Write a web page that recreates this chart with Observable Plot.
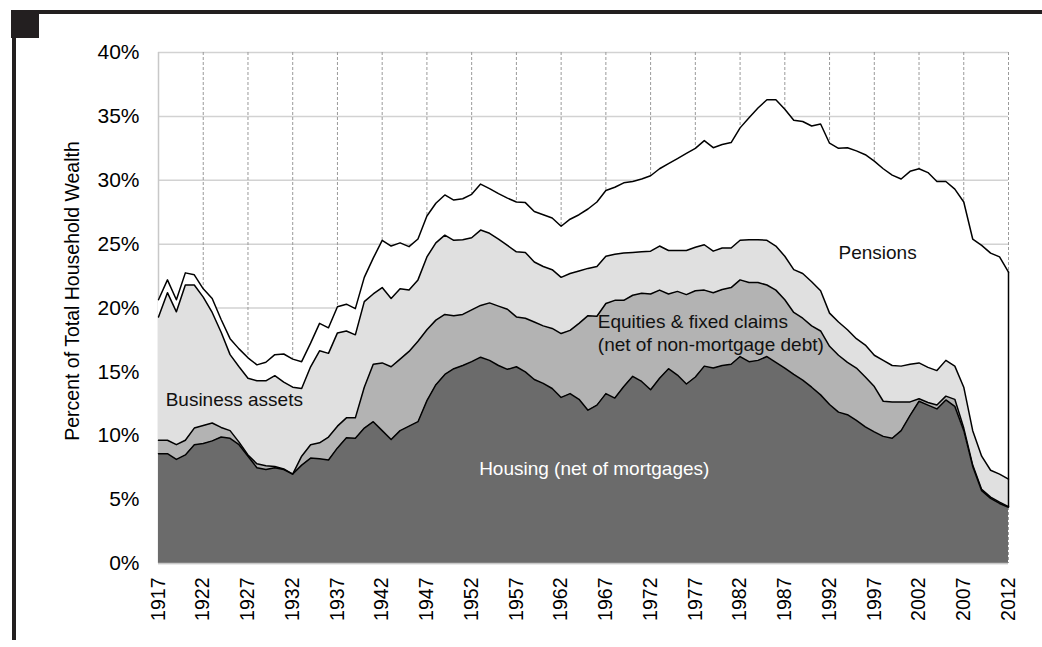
<!DOCTYPE html>
<html>
<head>
<meta charset="utf-8">
<script src="https://cdn.jsdelivr.net/npm/d3@7"></script>
<script src="https://cdn.jsdelivr.net/npm/@observablehq/plot@0.6"></script>
<style>
html, body { margin: 0; padding: 0; background: #fff; }
#wrap { position: relative; width: 1042px; height: 647px; overflow: hidden; font-family: "Liberation Sans", Arial, sans-serif; }
#chart { position: absolute; left: 0; top: 0; }
.bar-top { position: absolute; left: 11px; top: 10px; width: 1031px; height: 4px; background: #231f20; }
.bar-left { position: absolute; left: 12px; top: 10px; width: 4px; height: 630px; background: #231f20; }
.box { position: absolute; left: 11px; top: 10px; width: 28px; height: 28px; background: #231f20; }
</style>
</head>
<body>
<div id="wrap">
  <div id="chart"></div>
  <div class="bar-top"></div>
  <div class="bar-left"></div>
  <div class="box"></div>
</div>
<script>
// ---- Data (percent of total household wealth) ----
const firstYear = 1917;
const lastYear = 2012;
const years = d3.range(firstYear, lastYear + 1);

const seriesNames = ["Housing (net of mortgages)", "Equities & fixed claims", "Business assets", "Pensions"];

const housing = [
  8.6, 8.6, 8.15, 8.5, 9.3, 9.4, 9.6, 9.9, 9.8, 9.3,
  8.4, 7.5, 7.35, 7.5, 7.35, 7.0, 7.7, 8.25, 8.2, 8.1,
  9.05, 9.85, 9.8, 10.6, 11.1, 10.4, 9.7, 10.4, 10.75, 11.1,
  12.75, 14.0, 14.8, 15.25, 15.5, 15.8, 16.15, 15.9, 15.5, 15.2,
  15.4, 15.0, 14.4, 14.1, 13.7, 13.0, 13.3, 12.85, 12.0, 12.4,
  13.3, 12.95, 13.85, 14.65, 14.25, 13.6, 14.5, 15.25, 14.75, 14.05,
  14.6, 15.45, 15.3, 15.5, 15.6, 16.2, 15.8, 15.9, 16.2, 15.75,
  15.3, 14.8, 14.35, 13.8, 13.2, 12.45, 11.85, 11.65, 11.2, 10.7,
  10.3, 9.95, 9.8, 10.4, 11.6, 12.7, 12.4, 12.1, 12.8, 12.3,
  10.4, 7.6, 5.7, 5.1, 4.7, 4.4
];

const equities = [
  1.05, 1.05, 1.15, 1.15, 1.3, 1.4, 1.4, 0.75, 0.6, 0.2,
  0.1, 0.3, 0.3, 0.1, 0.05, 0.0, 0.7, 1.05, 1.25, 1.8,
  1.7, 1.55, 1.6, 3.2, 4.5, 5.3, 5.7, 5.6, 5.85, 6.3,
  5.55, 5.05, 4.7, 4.15, 4.0, 4.05, 4.05, 4.5, 4.65, 4.7,
  3.9, 4.2, 4.5, 4.5, 4.7, 5.0, 4.95, 5.95, 7.4, 6.95,
  7.05, 7.65, 6.75, 6.35, 6.9, 7.5, 6.9, 5.85, 6.55, 7.0,
  6.75, 5.95, 5.9, 5.95, 6.0, 6.0, 6.2, 6.1, 5.6, 5.65,
  5.35, 4.85, 4.85, 4.8, 5.0, 4.55, 4.45, 4.1, 4.1, 3.9,
  3.55, 2.75, 2.85, 2.25, 1.05, 0.2, 0.2, 0.3, 0.3, 0.55,
  0.2, 0.1, 0.1, 0.1, 0.1, 0.05
];

const business = [
  9.65, 11.55, 10.4, 12.15, 11.2, 10.05, 8.65, 7.45, 5.95, 5.9,
  6.0, 6.5, 6.65, 7.1, 6.8, 6.8, 5.3, 6.1, 7.2, 6.55,
  7.3, 6.8, 6.5, 6.7, 5.5, 5.9, 5.35, 5.5, 4.8, 4.8,
  5.7, 6.05, 6.2, 5.9, 5.85, 5.65, 5.9, 5.45, 5.25, 5.0,
  5.1, 5.15, 4.7, 4.65, 4.6, 4.4, 4.45, 4.1, 3.7, 3.9,
  3.7, 3.6, 3.7, 3.35, 3.25, 3.35, 3.45, 3.4, 3.2, 3.45,
  3.4, 3.55, 3.25, 3.25, 3.1, 3.1, 3.35, 3.35, 3.5, 3.45,
  3.4, 3.35, 3.5, 3.45, 3.15, 2.6, 2.6, 2.55, 2.3, 2.5,
  2.45, 3.2, 2.85, 2.8, 2.95, 2.8, 2.75, 2.7, 2.8, 2.6,
  3.2, 2.7, 2.6, 2.1, 2.2, 2.15
];

const pensions = [
  1.35, 1.0, 0.95, 0.95, 0.8, 0.65, 1.1, 1.0, 1.25, 1.4,
  1.6, 1.25, 1.45, 1.65, 2.2, 2.2, 2.1, 1.85, 2.15, 2.0,
  2.05, 2.1, 2.05, 1.9, 2.8, 3.7, 4.1, 3.6, 3.4, 3.2,
  3.2, 3.1, 3.15, 3.15, 3.2, 3.4, 3.6, 3.5, 3.55, 3.7,
  3.9, 3.9, 3.95, 4.05, 4.05, 4.0, 4.25, 4.4, 4.65, 5.05,
  5.15, 5.25, 5.5, 5.55, 5.7, 5.9, 6.05, 6.8, 7.2, 7.6,
  7.75, 8.15, 8.1, 8.1, 8.25, 8.8, 9.55, 10.3, 11.0, 11.45,
  11.5, 11.7, 11.9, 12.2, 13.05, 13.3, 13.6, 14.25, 14.7, 14.9,
  15.2, 15.0, 14.9, 14.65, 15.1, 15.2, 15.25, 14.8, 14.0, 13.85,
  14.5, 15.0, 16.5, 17.0, 17.0, 16.2
];

const xTickYears = d3.range(1917, 2013, 5);
const yTicks = d3.range(0, 45, 5);

// ---- Build long table ----
const allSeries = [housing, equities, business, pensions];
const table = [];
allSeries.forEach((vals, k) => {
  vals.forEach((v, i) => table.push({ year: years[i], series: seriesNames[k], value: v }));
});

const last = years.length - 1;
const lastHousing = housing[last];
const lastTotal = housing[last] + equities[last] + business[last] + pensions[last];

const fills = ["#6b6b6b", "#b3b3b3", "#e0e0e0", "#ffffff"];

const chart = Plot.plot({
  width: 1042,
  height: 647,
  marginLeft: 158,
  marginRight: 34,
  marginTop: 52,
  marginBottom: 84,
  x: { domain: [firstYear, lastYear] },
  y: { domain: [0, 40] },
  color: { domain: seriesNames, range: fills },
  style: { fontFamily: "'Liberation Sans', Arial, sans-serif", fontSize: "19px", color: "#000", background: "transparent" },
  marks: [
    // grid
    Plot.ruleY(yTicks, { stroke: "#d2d2d2", strokeWidth: 1.5 }),
    Plot.ruleX(xTickYears.filter(d => d > firstYear), { stroke: "#9a9a9a", strokeDasharray: "3,2", strokeWidth: 1 }),
    Plot.ruleX([firstYear], { stroke: "#c8c8c8", strokeWidth: 1.5 }),
    // stacked areas
    Plot.areaY(table, Plot.stackY({ x: "year", y: "value", z: "series", fill: "series", order: seriesNames })),
    Plot.lineY(table, Plot.stackY2({ x: "year", y: "value", z: "series", order: seriesNames, stroke: "#000", strokeWidth: 1.5 })),
    Plot.ruleX([lastYear], { y1: lastHousing, y2: lastTotal, stroke: "#000", strokeWidth: 1.5 }),
    Plot.ruleY([0], { stroke: "#c8c8c8", strokeWidth: 1.5 }),
    // annotations
    Plot.text(["Business assets"], { x: 1917.8, y: 12.8, text: d => d, textAnchor: "start", fill: "#111" }),
    Plot.text(["Equities & fixed claims\n(net of non-mortgage debt)"], { x: 1966.1, y: 18.1, text: d => d, textAnchor: "start", lineHeight: 1.2, fill: "#111" }),
    Plot.text(["Pensions"], { x: 1993.0, y: 24.3, text: d => d, textAnchor: "start", fill: "#111" }),
    Plot.text(["Housing (net of mortgages)"], { x: 1965.7, y: 7.4, text: d => d, textAnchor: "middle", fill: "#fff" }),
    // axes
    Plot.axisY({ ticks: yTicks, tickFormat: d => d + "%", tickSize: 0, tickPadding: 19, label: null, fontSize: 21 }),
    Plot.axisX({ ticks: xTickYears, tickFormat: d => String(d), tickRotate: -90, tickSize: 0, tickPadding: 14, label: null, fontSize: 19.5 }),
    Plot.text(["Percent of Total Household Wealth"], { frameAnchor: "left", textAnchor: "middle", dx: -86, dy: -17, rotate: -90, text: d => d, fontSize: 19.5, fill: "#000" })
  ]
});

document.getElementById("chart").appendChild(chart);
</script>
</body>
</html>
